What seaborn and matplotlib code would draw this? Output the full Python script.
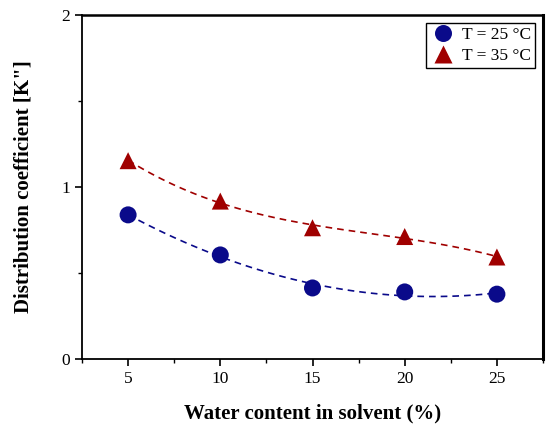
import matplotlib
matplotlib.use("Agg")
import matplotlib.pyplot as plt
import seaborn as sns
import pandas as pd
from matplotlib.ticker import MultipleLocator

water = [5, 10, 15, 20, 25]
k_25 = [0.838, 0.605, 0.413, 0.390, 0.377]
k_35 = [1.153, 0.918, 0.763, 0.712, 0.593]
series_labels = ["T = 25 °C", "T = 35 °C"]
x_ticks = [5, 10, 15, 20, 25]
y_ticks = [0, 1, 2]

sns.set_theme(style="ticks")
plt.rcParams['font.family'] = ['Liberation Serif', 'DejaVu Serif']
plt.rcParams['text.color'] = 'black'
plt.rcParams['axes.labelcolor'] = 'black'

df = pd.DataFrame({
    "x": water * 2,
    "y": k_25 + k_35,
    "series": [series_labels[0]] * 5 + [series_labels[1]] * 5,
})

blue = "#0a0a8a"
red = "#a00000"
palette = {series_labels[0]: blue, series_labels[1]: red}
markers = {series_labels[0]: "o", series_labels[1]: "^"}
fit_order = {series_labels[0]: 2, series_labels[1]: 3}

fig = plt.figure(figsize=(5.5, 4.33), dpi=100)
ax = fig.add_axes([82/550, 1-359/433, (543-82)/550, (359-15)/433])

for lab, col in palette.items():
    sub = df[df.series == lab]
    sns.regplot(data=sub, x="x", y="y", order=fit_order[lab], ci=None, scatter=False, ax=ax,
                truncate=True,
                line_kws=dict(color=col, linestyle=(0, (4, 3)), linewidth=1.2))

sns.scatterplot(data=df, x="x", y="y", hue="series", style="series",
                palette=palette, markers=markers, s=150, edgecolor="none",
                ax=ax, zorder=3)

ax.set_xlim(2.5, 27.5)
ax.set_ylim(0, 2)
ax.set_xticks(x_ticks)
ax.set_yticks(y_ticks)
ax.xaxis.set_minor_locator(MultipleLocator(2.5))
ax.yaxis.set_minor_locator(MultipleLocator(0.5))
ax.tick_params(which="major", direction="out", length=5, width=1.2, labelsize=12.5, colors="black")
ax.tick_params(which="minor", direction="out", length=3, width=1.0, colors="black")
for s in ax.spines.values():
    s.set_linewidth(1.3)
    s.set_color("black")
ax.spines["right"].set_linewidth(2.2)
ax.spines["top"].set_linewidth(1.8)

ax.set_xlabel("Water content in solvent (%)", fontsize=15, fontweight="bold", labelpad=12, color="black")
ax.set_ylabel("Distribution coefficient [K\"]", fontsize=15, fontweight="bold", labelpad=20, color="black")

h, l = ax.get_legend_handles_labels()
leg = ax.legend(h, l, loc="upper right", fontsize=12.5, frameon=True, fancybox=False,
                edgecolor="black", framealpha=1, borderpad=0.25, handletextpad=0.3,
                handlelength=1.5, labelspacing=0.25, borderaxespad=0.45, markerscale=1.0)
leg.get_frame().set_linewidth(1.0)
for t in leg.get_texts():
    t.set_color("black")

fig.savefig("out.png", dpi=100)
